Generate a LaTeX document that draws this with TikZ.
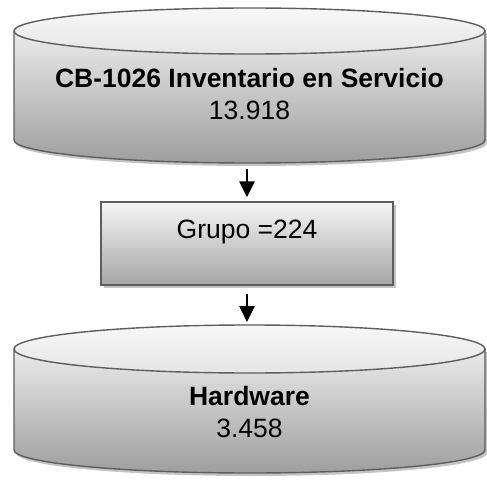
\documentclass[tikz,border=0pt]{standalone}
\usepackage{fontspec}
\setmainfont{Liberation Sans}
\usetikzlibrary{arrows.meta}
\definecolor{edge}{HTML}{5E5E5E}
\definecolor{shadowc}{HTML}{C4C4C4}
\begin{document}
\begin{tikzpicture}[x=1pt,y=1pt,
  border/.style={draw=edge, line width=1.4pt},
  bodyshade/.style={top color=black!8, bottom color=black!38},
  lidshade/.style={top color=black!3, bottom color=black!10},
  boxshade/.style={top color=black!4, bottom color=black!35},
  arr/.style={line width=2.6pt, -{Triangle[width=15pt,length=16pt]}},
  lbl/.style={align=center, font=\fontsize{26.5}{32}\selectfont, inner sep=0pt}]
\useasboundingbox (0,0) rectangle (487,480);
% ---------- top cylinder ----------
\fill[shadowc, shift={(2,-3)}] (14,449) -- (14,340) arc[start angle=180,end angle=360,x radius=235.5,y radius=23] -- (485,449) -- cycle;
\shade[bodyshade] (14,449) -- (14,340) arc[start angle=180,end angle=360,x radius=235.5,y radius=23] -- (485,449) arc[start angle=0,end angle=-180,x radius=235.5,y radius=23] -- cycle;
\draw[border] (14,449) -- (14,340) arc[start angle=180,end angle=360,x radius=235.5,y radius=23] -- (485,449);
\shade[lidshade, border] (249.5,449) ellipse[x radius=235.5,y radius=23];
\node[lbl] (c1) at (249.5,386) {\textbf{CB-1026 Inventario en Servicio}\\13.918};
\coordinate (c1b) at (247,311);
% ---------- middle box ----------
\fill[shadowc] (104,275) rectangle (396,192);
\node[boxshade, border, minimum width=292pt, minimum height=83pt, inner sep=0pt] (g) at (247,236.5) {};
\node[lbl] (gt) at (247,248) {Grupo =224};
% ---------- bottom cylinder ----------
\fill[shadowc, shift={(2,-3)}] (14,131) -- (14,30) arc[start angle=180,end angle=360,x radius=235.5,y radius=23] -- (485,131) -- cycle;
\shade[bodyshade] (14,131) -- (14,30) arc[start angle=180,end angle=360,x radius=235.5,y radius=23] -- (485,131) arc[start angle=0,end angle=-180,x radius=235.5,y radius=24] -- cycle;
\draw[border] (14,131) -- (14,30) arc[start angle=180,end angle=360,x radius=235.5,y radius=23] -- (485,131);
\shade[lidshade, border] (249.5,131) ellipse[x radius=235.5,y radius=24];
\node[lbl] (c2) at (249.5,68) {\textbf{Hardware}\\3.458};
\coordinate (c2t) at (247,158);
% ---------- connectors ----------
\draw[arr, shorten >=4pt] (c1b) -- (g.north);
\draw[arr, shorten <=8pt] (g.south) -- (c2t);
\end{tikzpicture}
\end{document}
